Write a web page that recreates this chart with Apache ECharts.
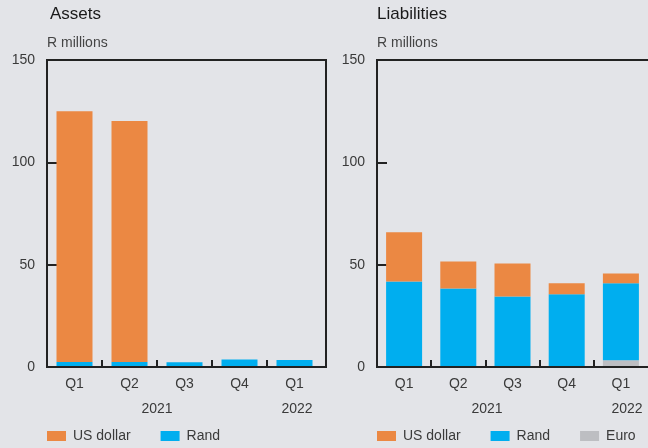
<!DOCTYPE html>
<html>
<head>
<meta charset="utf-8">
<script src="https://cdn.jsdelivr.net/npm/echarts@6/dist/echarts.min.js"></script>
<style>
  html, body { margin: 0; padding: 0; background: #e3e4e8; }
  #chart { width: 648px; height: 448px; }
</style>
</head>
<body>
<div id="chart"></div>
<script>
  // quarters, 2021 Q1 .. 2022 Q1
  var quarters = ['Q1', 'Q2', 'Q3', 'Q4', 'Q1']
  var yearLabels = ['2021', '2022']

  // Assets, R millions
  var assetsRand = [2.5, 2.5, 2.3, 3.7, 3.4]
  var assetsUsd = [122.5, 117.7, 0, 0, 0]

  // Liabilities, R millions
  var liabEuro = [0, 0, 0.5, 0.5, 3.3]
  var liabRand = [41.8, 38.4, 34, 35, 37.6]
  var liabUsd = [24, 13.2, 16.1, 5.4, 4.8]

  var orange = '#eb8843'
  var blue = '#00aeef'
  var grey = '#bdbec2'
  var ink = '#222'
  var font = 'Liberation Sans, Arial, sans-serif'

  var chart = echarts.init(document.getElementById('chart'))

  function xAxis(gridIndex) {
    return {
      type: 'category',
      gridIndex: gridIndex,
      data: quarters,
      axisLine: { lineStyle: { color: ink, width: 2 } },
      axisTick: { show: false },
      axisLabel: { color: '#3a3a3a', fontSize: 14, fontFamily: font, margin: 10 }
    }
  }

  // helper axis: one slot per quarter boundary, used only for the small ticks between quarters
  function boundaryAxis(gridIndex) {
    var bounds = quarters.concat([''])
    return {
      type: 'category',
      gridIndex: gridIndex,
      position: 'bottom',
      boundaryGap: false,
      data: bounds,
      axisLine: { show: false },
      axisLabel: { show: false },
      axisTick: {
        show: true, inside: true, length: 7, lineStyle: { color: ink, width: 2 },
        interval: function (i) { return i > 0 && i < bounds.length - 1 }
      }
    }
  }

  function yAxis(gridIndex) {
    return {
      type: 'value',
      gridIndex: gridIndex,
      min: 0,
      max: 150,
      interval: 50,
      splitLine: { show: false },
      axisLine: { show: true, lineStyle: { color: ink, width: 2 } },
      axisTick: { show: true, inside: true, length: 10, lineStyle: { color: ink, width: 2 } },
      axisLabel: { color: '#3a3a3a', fontSize: 14, fontFamily: font, margin: 12, padding: [5, 0, 0, 0] }
    }
  }

  function box(x) {
    return {
      type: 'rect', shape: { x: x, y: 60, width: 279, height: 307 },
      style: { fill: 'none', stroke: ink, lineWidth: 2 }, z: 10
    }
  }

  function label(x, y, str, size, color, align) {
    return {
      type: 'text', x: x, y: y,
      style: { text: str, fontSize: size, fontFamily: font, fill: color, align: align || 'left', verticalAlign: 'middle' }
    }
  }

  var legendText = { color: '#3a3a3a', fontSize: 14, fontFamily: font, padding: [0, 0, 0, 2] }

  chart.setOption({
    backgroundColor: '#e3e4e8',
    animation: false,
    grid: [
      { left: 47, top: 60, width: 275, height: 307 },
      { left: 377, top: 60, width: 275, height: 307 }
    ],
    xAxis: [xAxis(0), xAxis(1), boundaryAxis(0), boundaryAxis(1)],
    yAxis: [yAxis(0), yAxis(1)],
    legend: [
      { left: 47, top: 429, padding: 0, itemWidth: 19, itemHeight: 10, itemGap: 30, icon: 'rect',
        textStyle: legendText, data: ['US dollar', 'Rand'] },
      { left: 377, top: 429, padding: 0, itemWidth: 19, itemHeight: 10, itemGap: 30, icon: 'rect',
        textStyle: legendText, data: ['US dollar', 'Rand', 'Euro'] }
    ],
    graphic: [
      box(47),
      box(377),
      label(50, 14, 'Assets', 17, '#1a1a1a'),
      label(47, 43, 'R millions', 14, '#444'),
      label(377, 14, 'Liabilities', 17, '#1a1a1a'),
      label(377, 43, 'R millions', 14, '#444'),
      label(157, 409, yearLabels[0], 14, '#3a3a3a', 'center'),
      label(297, 409, yearLabels[1], 14, '#3a3a3a', 'center'),
      label(487, 409, yearLabels[0], 14, '#3a3a3a', 'center'),
      label(627, 409, yearLabels[1], 14, '#3a3a3a', 'center')
    ],
    series: [
      { name: 'Rand', type: 'bar', stack: 'assets', xAxisIndex: 0, yAxisIndex: 0,
        barWidth: 36, itemStyle: { color: blue }, data: assetsRand },
      { name: 'US dollar', type: 'bar', stack: 'assets', xAxisIndex: 0, yAxisIndex: 0,
        barWidth: 36, itemStyle: { color: orange }, data: assetsUsd },
      { name: 'Euro', type: 'bar', stack: 'liab', xAxisIndex: 1, yAxisIndex: 1,
        barWidth: 36, itemStyle: { color: grey }, data: liabEuro },
      { name: 'Rand', type: 'bar', stack: 'liab', xAxisIndex: 1, yAxisIndex: 1,
        barWidth: 36, itemStyle: { color: blue }, data: liabRand },
      { name: 'US dollar', type: 'bar', stack: 'liab', xAxisIndex: 1, yAxisIndex: 1,
        barWidth: 36, itemStyle: { color: orange }, data: liabUsd }
    ]
  })
</script>
</body>
</html>
